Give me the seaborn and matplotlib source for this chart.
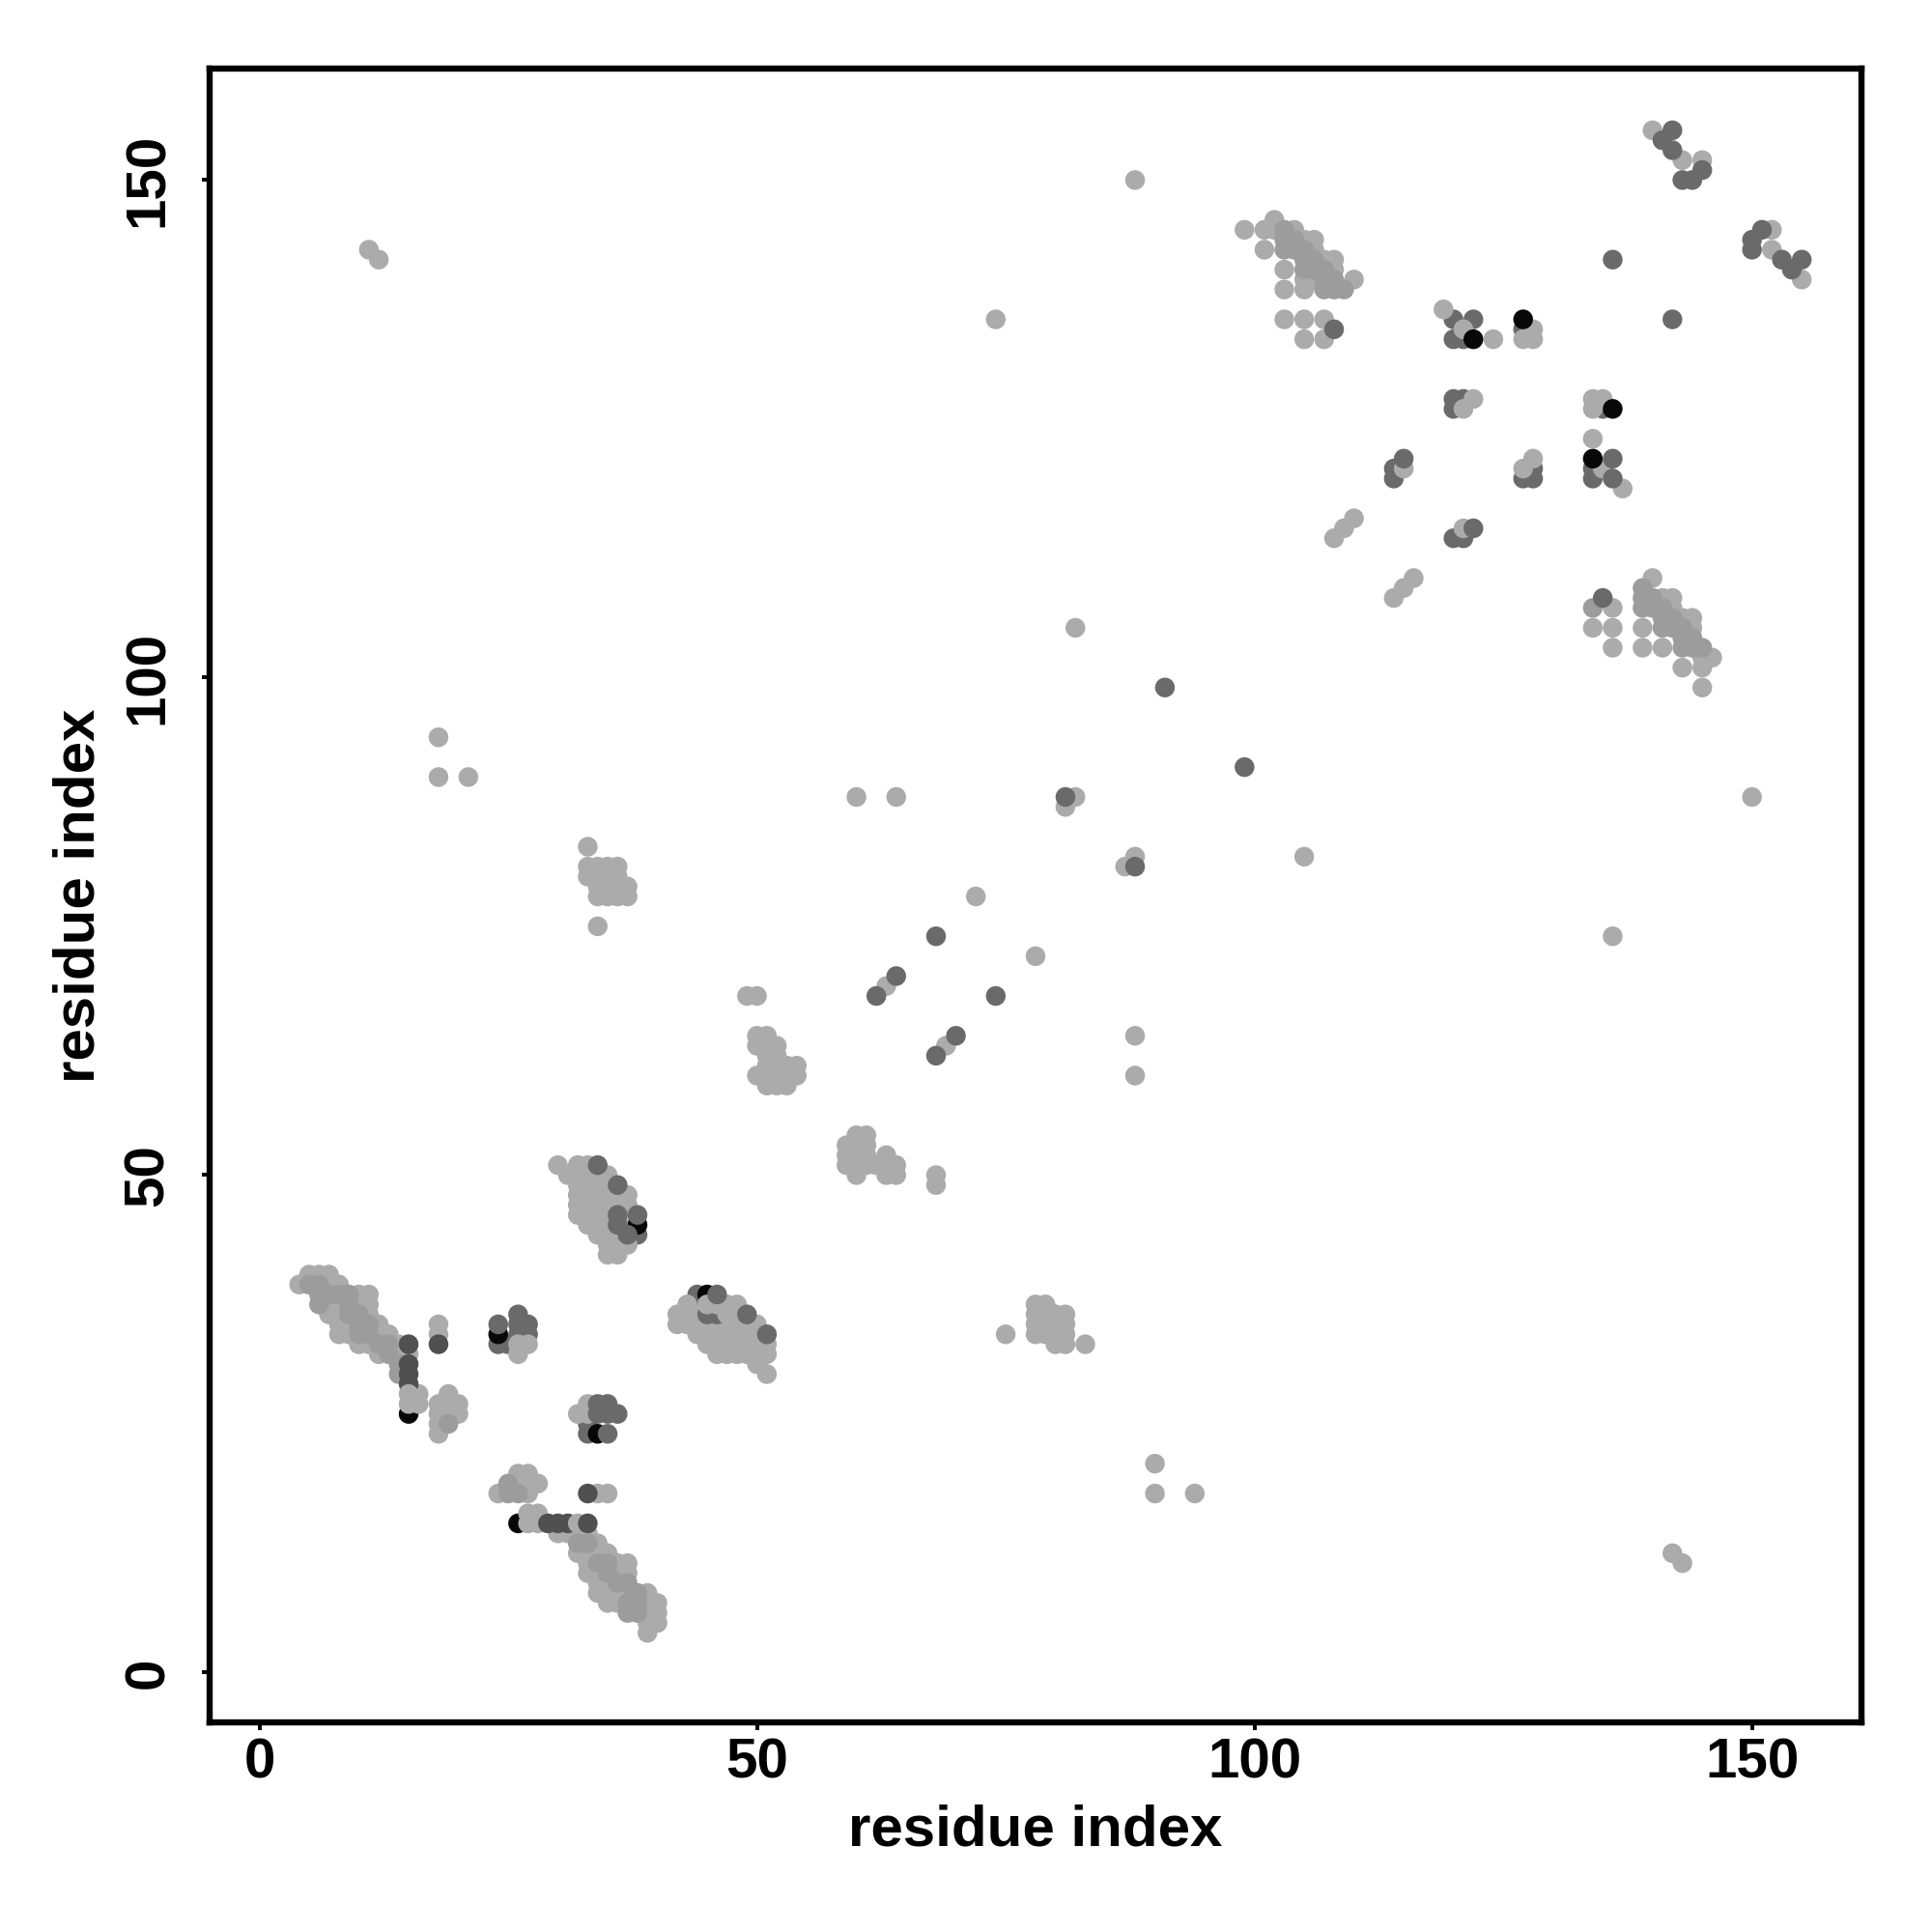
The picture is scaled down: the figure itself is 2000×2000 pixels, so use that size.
import pandas as pd
import matplotlib
matplotlib.use('Agg')
import matplotlib.pyplot as plt
import seaborn as sns

# contacts as (residue i, residue j), grouped by grey level, in drawing order
black_under = [(15, 26), (26, 15)]

dark_under = [(120, 128), (121, 128), (120, 127), (114, 121), (114, 120), (127, 120), (128, 120), (128, 121),
              (120, 114), (121, 114), (134, 121), (134, 120), (135, 127), (120, 136), (122, 136), (120, 134),
              (121, 134), (127, 135), (33, 25), (33, 24), (44, 38), (44, 37), (38, 44),
              (24, 33), (25, 33), (26, 36), (26, 35), (26, 34), (27, 35), (27, 34)]

light = [(4, 39), (5, 40), (6, 40), (7, 40), (7, 39), (8, 39), (10, 38), (11, 38), (7, 37), (8, 37), (10, 37), (11, 37),
         (7, 36), (8, 36), (11, 36), (8, 35), (9, 35), (12, 35), (8, 34), (9, 34), (12, 34), (13, 34),
         (10, 33), (11, 33), (14, 33), (12, 32), (14, 32), (15, 32), (15, 27), (16, 28), (16, 27),
         (18, 35), (18, 34), (18, 27), (18, 26), (18, 25), (18, 24), (19, 28), (19, 27), (19, 26), (20, 27), (20, 26),
         (26, 33), (26, 32), (27, 33), (32, 26), (33, 27), (33, 26),
         (24, 18), (26, 20), (27, 20), (26, 19), (27, 19), (27, 18), (28, 19), (34, 18), (35, 18),
         (27, 16), (28, 16), (27, 15), (28, 15),
         (30, 14), (31, 14), (32, 14), (33, 14), (34, 13), (32, 12), (33, 12), (34, 12), (35, 12),
         (33, 11), (36, 11), (37, 11), (33, 10), (34, 10), (36, 10), (37, 10), (34, 9), (35, 9),
         (34, 8), (35, 8), (36, 8), (37, 8), (39, 8), (35, 7), (36, 7), (39, 7), (40, 7), (39, 6), (40, 6),
         (39, 5), (40, 5), (39, 4),
         (30, 51), (32, 51), (33, 51), (31, 50), (32, 50), (33, 50), (34, 50), (35, 50),
         (32, 49), (33, 49), (34, 49), (35, 49), (32, 48), (33, 48), (34, 48), (35, 48), (36, 48), (37, 48),
         (32, 47), (33, 47), (34, 47), (35, 47), (36, 47), (37, 47), (32, 46), (33, 46), (34, 46), (35, 46), (37, 46),
         (33, 45), (34, 45), (35, 45), (37, 45), (34, 44), (35, 44), (36, 44), (35, 43), (36, 43), (37, 43),
         (35, 42), (36, 42),
         (43, 37), (48, 37), (42, 36), (43, 36), (44, 36), (48, 36),
         (42, 35), (43, 35), (44, 35), (45, 35), (46, 35), (47, 35), (48, 35), (49, 35), (50, 35),
         (44, 34), (45, 34), (46, 34), (47, 34), (48, 34), (49, 34), (50, 34),
         (45, 33), (46, 33), (47, 33), (48, 33), (49, 33), (50, 33), (51, 33),
         (46, 32), (47, 32), (48, 32), (49, 32), (50, 32), (51, 32), (50, 31), (51, 30),
         (99, 145), (101, 145), (102, 145), (102, 146), (104, 145), (105, 144), (106, 144), (101, 143), (106, 143),
         (107, 142), (108, 142), (103, 141), (108, 141), (105, 140), (106, 140), (110, 140), (103, 139), (105, 139),
         (103, 136), (105, 136), (107, 136), (105, 134), (107, 134),
         (119, 137), (121, 135), (124, 134), (127, 134), (128, 135), (128, 134), (122, 128), (121, 127),
         (115, 121), (128, 122), (127, 121), (108, 114), (109, 115), (110, 116), (121, 115),
         (114, 108), (115, 109), (116, 110), (134, 128), (135, 128), (134, 127), (134, 124), (135, 121), (137, 119),
         (136, 107), (134, 105), (136, 105), (136, 103),
         (140, 110), (141, 108), (142, 108), (142, 107), (143, 106), (144, 106), (139, 105), (144, 105),
         (139, 103), (141, 103), (145, 102), (146, 102), (143, 101), (145, 101), (145, 99),
         (140, 155), (143, 152), (145, 152), (152, 145), (152, 143), (155, 140),
         (150, 88), (136, 74), (88, 150), (11, 143), (12, 142), (74, 136), (82, 105), (18, 94), (18, 90), (21, 90),
         (60, 88), (64, 88), (82, 88), (81, 87), (87, 81), (88, 82), (105, 82), (72, 78), (78, 72), (63, 69), (69, 63),
         (88, 64), (88, 60), (68, 50), (68, 49), (90, 21), (90, 18), (94, 18), (142, 12), (143, 11),
         (33, 83), (33, 81), (34, 81), (35, 81), (36, 81), (33, 80), (34, 80), (35, 80), (36, 80),
         (34, 79), (35, 79), (36, 79), (37, 79), (34, 78), (35, 78), (36, 78), (37, 78), (34, 75),
         (49, 68), (50, 68), (50, 64), (51, 64), (50, 63), (51, 63), (52, 63), (51, 62), (52, 62),
         (51, 61), (52, 61), (53, 61), (54, 61), (50, 60), (51, 60), (52, 60), (53, 60), (54, 60),
         (51, 59), (52, 59), (53, 59),
         (60, 54), (61, 54), (59, 53), (60, 53), (61, 53), (59, 52), (60, 52), (61, 52), (63, 52),
         (59, 51), (60, 51), (61, 51), (62, 51), (63, 51), (64, 51), (60, 50), (63, 50), (64, 50),
         (75, 34), (83, 33), (78, 37), (79, 37), (78, 36), (79, 36), (80, 36), (81, 36),
         (78, 35), (79, 35), (80, 35), (81, 35), (78, 34), (79, 34), (80, 34), (81, 34), (80, 33), (81, 33)]

mid = [(5, 39), (6, 39), (6, 38), (7, 38), (8, 38), (9, 38), (6, 37), (9, 37), (9, 36), (10, 36), (10, 35), (11, 35),
       (10, 34), (11, 34), (12, 33), (13, 33), (13, 32), (14, 31), (14, 30), (25, 19), (25, 18), (26, 18),
       (33, 13), (32, 13), (34, 11), (35, 11), (35, 10), (36, 9), (37, 9), (38, 8), (37, 7), (38, 7), (37, 6), (38, 6),
       (19, 25), (103, 145), (103, 144), (104, 144), (103, 143), (104, 143), (105, 143), (105, 142), (106, 142),
       (106, 141), (107, 141), (107, 140), (108, 140), (105, 141), (107, 139), (108, 139), (109, 139),
       (139, 109), (139, 108), (140, 108), (139, 107), (140, 107), (141, 107), (141, 106), (142, 106), (141, 105),
       (142, 105), (143, 105), (143, 104), (144, 104), (143, 103), (144, 103), (145, 103), (134, 107)]

black_over = [(122, 134), (136, 127), (127, 136), (134, 122), (38, 45), (45, 38), (24, 34), (34, 24)]

dark_over = [(108, 135), (135, 108), (122, 115), (115, 122), (34, 51), (36, 49), (36, 46), (36, 45), (37, 44),
             (38, 46), (45, 36), (46, 36), (49, 36), (51, 34), (34, 27), (35, 27), (34, 26), (35, 26), (36, 26),
             (24, 35), (35, 24), (136, 122), (136, 120), (136, 142), (142, 136), (142, 155), (141, 154), (142, 153),
             (145, 151), (144, 150), (143, 150), (150, 144), (151, 145), (150, 143), (153, 142), (154, 141), (155, 142),
             (91, 99), (99, 91), (81, 88), (88, 81), (68, 74), (74, 68), (62, 68), (64, 70), (68, 62), (70, 64)]

darker_over = [(29, 15), (30, 15), (31, 15), (15, 31), (15, 30), (15, 29), (18, 33), (33, 18)]

light_top = [(32, 15), (15, 28), (45, 37), (46, 37), (47, 37), (47, 36)]

darker_top = [(33, 15), (15, 33)]

dark_top = [(46, 38)]

tick_values = [0, 50, 100, 150]

groups = [(black_under, 'black'), (dark_under, 'dark'), (light, 'light'), (mid, 'mid'), (black_over, 'black'),
          (dark_over, 'dark'), (darker_over, 'darker'), (light_top, 'light'), (darker_top, 'darker'), (dark_top, 'dark')]

rows = []
for pts, level in groups:
    for px, py in pts:
        rows.append({'i': px, 'j': py, 'level': level})
df = pd.DataFrame(rows)

shades = {'black': '#080808', 'darker': '#505050', 'dark': '#6A6A6A', 'mid': '#9C9C9C', 'light': '#ABABAB'}

sns.set_style('white')
plt.rcParams['font.family'] = ['Liberation Sans', 'DejaVu Sans']

fig = plt.figure(figsize=(10, 10), dpi=200)
ax = fig.add_axes([0.1085, 0.1085, 0.855, 0.856])

sns.scatterplot(data=df, x='i', y='j', hue='level', palette=shades, s=54, linewidth=0, legend=False, ax=ax)

ax.set_xlim(-5, 161)
ax.set_ylim(-5, 161.2)
ax.set_xticks(tick_values)
ax.set_yticks(tick_values)
ax.tick_params(axis='both', length=3, width=1.4, direction='out', bottom=True, left=True, labelsize=21,
               color='black', labelcolor='black')
ax.tick_params(axis='x', pad=2.5)
ax.tick_params(axis='y', pad=10)
for lab in ax.get_xticklabels():
    lab.set_fontweight('bold')
for lab in ax.get_yticklabels():
    lab.set_fontweight('bold')
    lab.set_rotation(90)
    lab.set_va('center')

ax.set_xlabel('residue index', fontsize=21.6, fontweight='bold', color='black', va='center')
ax.set_ylabel('residue index', fontsize=21.6, fontweight='bold', color='black', va='center')
ax.xaxis.set_label_coords(0.5, -0.0655)
ax.yaxis.set_label_coords(-0.079, 0.5)

for spine in ax.spines.values():
    spine.set_visible(True)
    spine.set_color('black')
    spine.set_linewidth(2.3)

fig.savefig('out.png', dpi=200)
